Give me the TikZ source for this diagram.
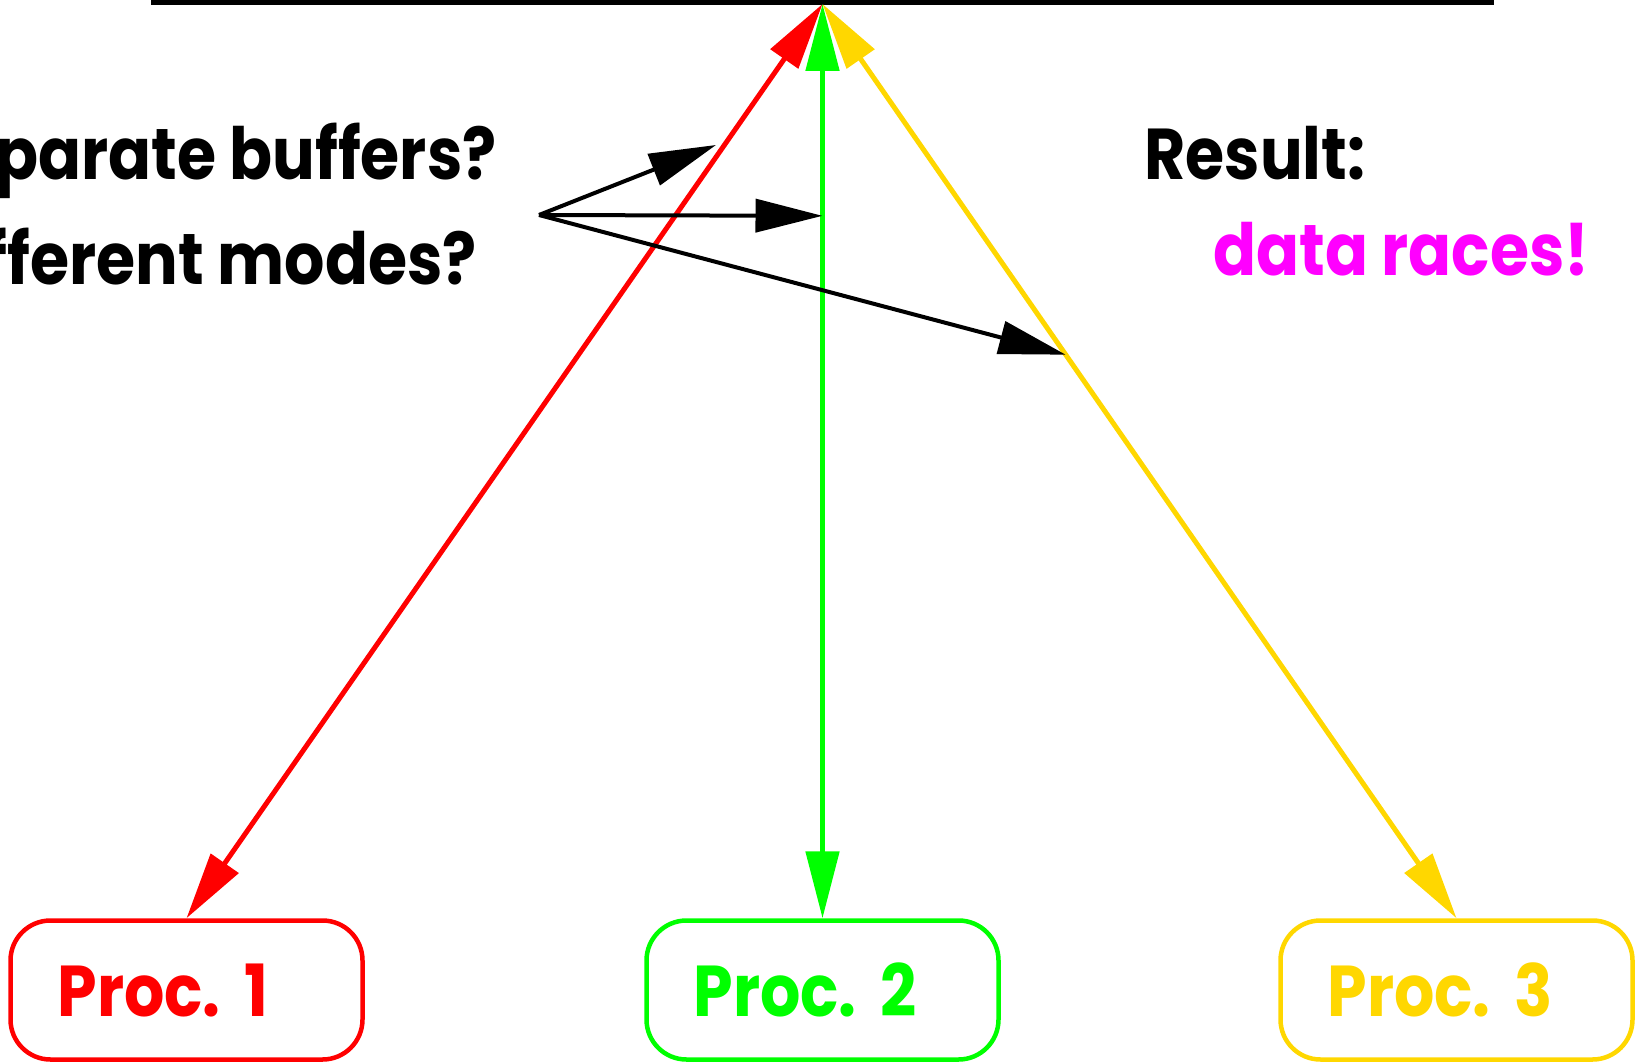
\documentclass[tikz,border=0pt]{standalone}
\usepackage{fontspec}
\setmainfont{Poppins}[FakeStretch=0.88]
\usetikzlibrary{arrows.meta,calc}
\definecolor{pred}{RGB}{255,0,0}
\definecolor{pgreen}{RGB}{0,255,0}
\definecolor{pgold}{RGB}{255,215,0}
\definecolor{pmag}{RGB}{255,0,255}
\begin{document}
\begin{tikzpicture}[x=0.5pt,y=-0.5pt,
  lbl/.style={font=\fontsize{36}{40}\selectfont\bfseries, inner sep=0pt},
  procbox/.style={draw, line width=2.25pt, rounded corners=20pt,
    minimum width=176pt, minimum height=69.5pt, text width=129pt,
    inner xsep=23.5pt, inner ysep=0pt, align=left,
    font=\fontsize{36}{40}\selectfont\bfseries},
  conn/.style={line width=2.5pt},
  blk/.style={line width=2pt},
  onetip/.style={-{Triangle[length=33.5pt,width=16.5pt]}},
  twotips/.style={{Triangle[length=33.5pt,width=16.5pt]}-{Triangle[length=33.5pt,width=16.5pt]}}]
\useasboundingbox (0,0) rectangle (1636,1063);
\begin{scope}
\clip (0,0) rectangle (1636,1063);
% top line
\coordinate (tl) at (151,2.5);
\coordinate (tr) at (1494,2.5);
\draw[line width=2.5pt] (tl) -- (tr);
\coordinate (apex) at (822.5,4);
% process boxes
\node[procbox, draw=pred, text=pred] (p1) at (186.5,990) {Proc.~1};
\node[procbox, draw=pgreen, text=pgreen] (p2) at (822.5,990) {Proc.~2};
\node[procbox, draw=pgold, text=pgold] (p3) at (1456.5,990) {Proc.~3};
% coloured connectors
\draw[conn, twotips, pred] (apex) -- (p1.north);
\draw[conn, twotips, pgreen] (apex) -- (p2.north);
\draw[conn, twotips, pgold] (apex) -- (p3.north);
% labels
\node[lbl, anchor=base east] (q1) at (497,180) {Separate buffers?};
\node[lbl, anchor=base east] (q2) at (477,285) {Different modes?};
\node[lbl, anchor=base west] (res) at (1144,180) {Result:};
\node[lbl, anchor=base west, text=pmag] (dr) at (1213,276) {data races!};
% black pointers
\coordinate (src) at (539,215);
\coordinate (t1) at (716,145);
\coordinate (t2) at ($(apex)!0.2317!(p2.north)$);
\coordinate (t3) at ($(apex)!0.3836!(p3.north)$);
\draw[blk, onetip] (src) -- (t1);
\draw[blk, onetip] (src) -- (t2);
\draw[blk, onetip] (src) -- (t3);
\end{scope}
\end{tikzpicture}
\end{document}
